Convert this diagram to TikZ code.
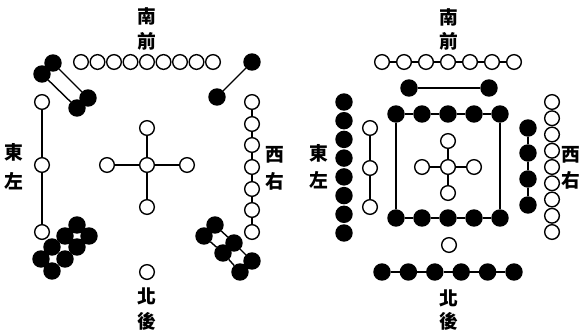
\documentclass[tikz,border=0pt]{standalone}
\usepackage{fontspec}
\usepackage{tikz}
\newfontfamily\cjk{Noto Sans CJK TC}

\tikzset{
	yang/.style={shape=circle,draw=black,fill=white,line width=1.2pt,minimum size=0.44cm,inner sep=0pt},
	yin/.style={shape=circle,draw=black,fill=black,line width=1.2pt,minimum size=0.48cm,inner sep=0pt},
	fang/.style={font=\cjk\bfseries\fontsize{16}{16}\selectfont,inner sep=0pt}
}

\begin{document}
\begin{tikzpicture}[x=0.03cm,y=-0.03cm,line width=1.2pt]
	\useasboundingbox (0,0) rectangle (582,335);
	
	% luoshu
	\node[fang] (lnan) at (147, 16)     {南};
	\node[fang] (lqian) at (147, 41)     {前};
	\node[fang] (lbei) at (147, 296)     {北};
	\node[fang] (lhou) at (147, 321)     {後};
	\node[fang] (ldong) at (14, 152)     {東};
	\node[fang] (lzuo) at (14, 181)     {左};
	\node[fang] (lxi) at (275, 155)     {西};
	\node[fang] (lyou) at (275, 181)     {右};
	
	\node[yang] (l9a) at (81, 62)     {};
	\node[yang] (l9b) at (97.5, 62)     {};
	\node[yang] (l9c) at (114, 62)     {};
	\node[yang] (l9d) at (130.5, 62)     {};
	\node[yang] (l9e) at (147, 62)     {};
	\node[yang] (l9f) at (163.5, 62)     {};
	\node[yang] (l9g) at (180, 62)     {};
	\node[yang] (l9h) at (196.5, 62)     {};
	\node[yang] (l9i) at (213, 62)     {};
	
	\node[yin] (l4a) at (53, 63)     {};
	\node[yin] (l4b) at (42, 74)     {};
	\node[yin] (l4c) at (88, 98)     {};
	\node[yin] (l4d) at (77, 108)     {};
	\path[-] (l4a) edge (l4c);
	\path[-] (l4b) edge (l4d);
	
	\node[yin] (l2a) at (252, 62)     {};
	\node[yin] (l2b) at (217, 97)     {};
	\path[-] (l2a) edge (l2b);
	
	\node[yang] (l3a) at (42, 102)     {};
	\node[yang] (l3b) at (42, 165)     {};
	\node[yang] (l3c) at (42, 232)     {};
	\path[-] (l3a) edge (l3b);
	\path[-] (l3b) edge (l3c);
	
	\node[yang] (l5c) at (147, 165)     {};
	\node[yang] (l5n) at (147, 128)     {};
	\node[yang] (l5w) at (107, 165)     {};
	\node[yang] (l5e) at (187, 165)     {};
	\node[yang] (l5s) at (147, 207)     {};
	\path[-] (l5c) edge (l5n);
	\path[-] (l5c) edge (l5w);
	\path[-] (l5c) edge (l5e);
	\path[-] (l5c) edge (l5s);
	
	\node[yang] (l7a) at (252, 102)     {};
	\node[yang] (l7b) at (252, 124)     {};
	\node[yang] (l7c) at (252, 145)     {};
	\node[yang] (l7d) at (252, 167)     {};
	\node[yang] (l7e) at (252, 189)     {};
	\node[yang] (l7f) at (252, 210)     {};
	\node[yang] (l7g) at (252, 232)     {};
	\path[-] (l7a) edge (l7b);
	\path[-] (l7b) edge (l7c);
	\path[-] (l7c) edge (l7d);
	\path[-] (l7d) edge (l7e);
	\path[-] (l7e) edge (l7f);
	\path[-] (l7f) edge (l7g);
	
	\node[yin] (l8a) at (77, 225)     {};
	\node[yin] (l8b) at (65, 236)     {};
	\node[yin] (l8c) at (52, 247)     {};
	\node[yin] (l8d) at (41, 259)     {};
	\node[yin] (l8e) at (89, 236)     {};
	\node[yin] (l8f) at (77, 247)     {};
	\node[yin] (l8g) at (65, 259)     {};
	\node[yin] (l8h) at (52, 271)     {};
	
	\node[yin] (l6a) at (215, 225)     {};
	\node[yin] (l6b) at (234, 243)     {};
	\node[yin] (l6c) at (252, 261)     {};
	\node[yin] (l6d) at (204, 236)     {};
	\node[yin] (l6e) at (223, 253)     {};
	\node[yin] (l6f) at (240, 272)     {};
	\path[-] (l6a) edge (l6b);
	\path[-] (l6b) edge (l6c);
	\path[-] (l6d) edge (l6e);
	\path[-] (l6e) edge (l6f);
	
	\node[yang] (l1) at (147, 272)     {};
	
	% hetu
	\node[fang] (hnan) at (449, 17)     {南};
	\node[fang] (hqian) at (449, 41)     {前};
	\node[fang] (hbei) at (449, 298)     {北};
	\node[fang] (hhou) at (449, 321)     {後};
	\node[fang] (hdong) at (319, 153)     {東};
	\node[fang] (hzuo) at (319, 180)     {左};
	\node[fang] (hxi) at (571, 155)     {西};
	\node[fang] (hyou) at (571, 180)     {右};
	
	\node[yang] (h7a) at (382, 62)     {};
	\node[yang] (h7b) at (404, 62)     {};
	\node[yang] (h7c) at (426, 62)     {};
	\node[yang] (h7d) at (448, 62)     {};
	\node[yang] (h7e) at (470, 62)     {};
	\node[yang] (h7f) at (492, 62)     {};
	\node[yang] (h7g) at (514, 62)     {};
	\path[-] (h7a) edge (h7b);
	\path[-] (h7b) edge (h7c);
	\path[-] (h7c) edge (h7d);
	\path[-] (h7d) edge (h7e);
	\path[-] (h7e) edge (h7f);
	\path[-] (h7f) edge (h7g);
	
	\node[yin] (h2a) at (409, 88)     {};
	\node[yin] (h2b) at (489, 88)     {};
	\path[-] (h2a) edge (h2b);
	
	\node[yin] (h10a) at (396, 114)     {};
	\node[yin] (h10b) at (422, 114)     {};
	\node[yin] (h10c) at (448, 114)     {};
	\node[yin] (h10d) at (474, 114)     {};
	\node[yin] (h10e) at (500, 114)     {};
	\node[yin] (h10f) at (396, 218)     {};
	\node[yin] (h10g) at (422, 218)     {};
	\node[yin] (h10h) at (448, 218)     {};
	\node[yin] (h10i) at (474, 218)     {};
	\node[yin] (h10j) at (500, 218)     {};
	\path[-] (h10a) edge (h10b);
	\path[-] (h10b) edge (h10c);
	\path[-] (h10c) edge (h10d);
	\path[-] (h10d) edge (h10e);
	\path[-] (h10f) edge (h10g);
	\path[-] (h10g) edge (h10h);
	\path[-] (h10h) edge (h10i);
	\path[-] (h10i) edge (h10j);
	\path[-] (h10a) edge (h10f);
	\path[-] (h10e) edge (h10j);
	
	\node[yang] (h5c) at (448, 167)     {};
	\node[yang] (h5n) at (448, 141)     {};
	\node[yang] (h5w) at (422, 167)     {};
	\node[yang] (h5e) at (474, 167)     {};
	\node[yang] (h5s) at (448, 193)     {};
	\path[-] (h5c) edge (h5n);
	\path[-] (h5c) edge (h5w);
	\path[-] (h5c) edge (h5e);
	\path[-] (h5c) edge (h5s);
	
	\node[yin] (h8a) at (344, 102)     {};
	\node[yin] (h8b) at (344, 120.7)     {};
	\node[yin] (h8c) at (344, 139.4)     {};
	\node[yin] (h8d) at (344, 158.1)     {};
	\node[yin] (h8e) at (344, 176.9)     {};
	\node[yin] (h8f) at (344, 195.6)     {};
	\node[yin] (h8g) at (344, 214.3)     {};
	\node[yin] (h8h) at (344, 233)     {};
	
	\node[yang] (h3a) at (370, 128)     {};
	\node[yang] (h3b) at (370, 168)     {};
	\node[yang] (h3c) at (370, 207)     {};
	\path[-] (h3a) edge (h3b);
	\path[-] (h3b) edge (h3c);
	
	\node[yin] (h4a) at (528, 128)     {};
	\node[yin] (h4b) at (528, 153)     {};
	\node[yin] (h4c) at (528, 179)     {};
	\node[yin] (h4d) at (528, 205)     {};
	\path[-] (h4a) edge (h4b);
	\path[-] (h4b) edge (h4c);
	\path[-] (h4c) edge (h4d);
	
	\node[yang] (h9a) at (552, 102)     {};
	\node[yang] (h9b) at (552, 118.25)     {};
	\node[yang] (h9c) at (552, 134.5)     {};
	\node[yang] (h9d) at (552, 150.75)     {};
	\node[yang] (h9e) at (552, 167)     {};
	\node[yang] (h9f) at (552, 183.25)     {};
	\node[yang] (h9g) at (552, 199.5)     {};
	\node[yang] (h9h) at (552, 215.75)     {};
	\node[yang] (h9i) at (552, 232)     {};
	
	\node[yang] (h1) at (449, 245)     {};
	
	\node[yin] (h6a) at (382, 272)     {};
	\node[yin] (h6b) at (408.4, 272)     {};
	\node[yin] (h6c) at (434.8, 272)     {};
	\node[yin] (h6d) at (461.2, 272)     {};
	\node[yin] (h6e) at (487.6, 272)     {};
	\node[yin] (h6f) at (514, 272)     {};
	\path[-] (h6a) edge (h6b);
	\path[-] (h6b) edge (h6c);
	\path[-] (h6c) edge (h6d);
	\path[-] (h6d) edge (h6e);
	\path[-] (h6e) edge (h6f);
	\end{tikzpicture}
\end{document}
